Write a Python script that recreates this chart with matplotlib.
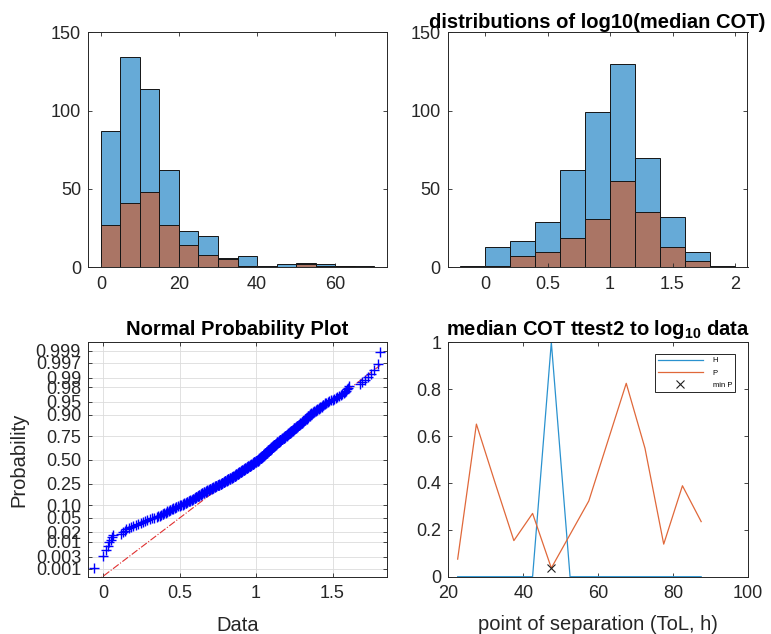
import matplotlib
matplotlib.use('Agg')
import matplotlib.pyplot as plt
import numpy as np
from statistics import NormalDist

plt.rcParams['font.family'] = ['Liberation Sans', 'DejaVu Sans']
plt.rcParams['mathtext.fontset'] = 'custom'
plt.rcParams['mathtext.rm'] = 'Liberation Sans'
plt.rcParams['mathtext.bf'] = 'Liberation Sans:bold'

# ---------------- data ----------------
# top-left: histogram of median COT (all / subset)
cot_edges = [0, 5, 10, 15, 20, 25, 30, 35, 40, 45, 50, 55, 60, 65, 70]
cot_all = [87, 134, 114, 62, 23, 20, 6, 7, 1, 2, 3, 2, 1, 1]
cot_sub = [27, 41, 48, 27, 14, 8, 5, 1, 0, 0, 2, 1, 1, 0]

# top-right: histogram of log10(median COT)
log_edges = [-0.2, 0.0, 0.2, 0.4, 0.6, 0.8, 1.0, 1.2, 1.4, 1.6, 1.8, 2.0]
log_all = [1, 13, 17, 29, 62, 99, 130, 70, 32, 10, 1]
log_sub = [0, 1, 7, 10, 19, 31, 55, 35, 13, 4, 0]

# bottom-left: normal probability plot data (value, multiplicity)
pp_vals = [-0.057, 0.002, 0.018, 0.031, 0.040, 0.052, 0.060, 0.068, 0.118, 0.128,
           0.142, 0.150, 0.172, 0.180, 0.198, 0.215, 0.232, 0.248, 0.262, 0.275,
           0.290, 0.305, 0.320, 0.335, 0.350, 0.362,
           0.37, 0.38, 0.39, 0.40, 0.41, 0.42, 0.43, 0.44, 0.45, 0.46, 0.47, 0.48, 0.49, 0.50, 0.51,
           0.52, 0.53, 0.54, 0.55, 0.56, 0.57, 0.58, 0.59,
           0.60, 0.61, 0.62, 0.63, 0.64, 0.65, 0.66, 0.67, 0.68, 0.69,
           0.70, 0.71, 0.72, 0.73, 0.74, 0.75, 0.76, 0.77,
           0.78, 0.79, 0.80, 0.81, 0.82, 0.83, 0.84, 0.85,
           0.86, 0.87, 0.88, 0.89, 0.90, 0.91, 0.92, 0.93, 0.94, 0.95, 0.96, 0.97,
           0.98, 0.99, 1.00, 1.01,
           1.02, 1.03, 1.04, 1.05, 1.06, 1.07, 1.08, 1.09, 1.10, 1.11,
           1.12, 1.13, 1.14, 1.15, 1.16, 1.17, 1.18, 1.19,
           1.20, 1.21, 1.22, 1.23, 1.24, 1.25,
           1.26, 1.27, 1.28, 1.29, 1.30, 1.31, 1.32, 1.33, 1.34, 1.35,
           1.36, 1.37, 1.38, 1.39, 1.40, 1.41, 1.42, 1.43, 1.44, 1.45,
           1.46, 1.47, 1.48,
           1.49, 1.50, 1.51, 1.52, 1.53, 1.545, 1.555, 1.565, 1.575, 1.58, 1.59, 1.595, 1.60, 1.61,
           1.68, 1.695, 1.715, 1.735, 1.75, 1.77, 1.80, 1.812]
pp_counts = [1, 1, 1, 1, 1, 1, 1, 1, 1, 1,
             1, 1, 1, 1, 1, 1, 1, 1, 1, 1,
             1, 1, 1, 1, 1, 1,
             1, 1, 2, 1, 1, 2, 1, 2, 1, 2, 1, 2, 1, 2, 1,
             2, 2, 2, 2, 2, 2, 2, 2,
             3, 3, 3, 3, 3, 3, 3, 3, 3, 3,
             3, 3, 3, 3, 3, 3, 3, 3,
             4, 4, 4, 4, 4, 4, 4, 4,
             5, 5, 5, 5, 5, 5, 5, 5, 5, 5, 5, 5,
             6, 6, 6, 6,
             7, 7, 7, 7, 7, 7, 7, 7, 7, 7,
             6, 6, 6, 6, 6, 6, 5, 5,
             5, 5, 5, 5, 5, 5,
             4, 4, 4, 4, 4, 4, 4, 4, 4, 4,
             2, 2, 2, 2, 2, 2, 2, 2, 2, 2,
             1, 1, 1,
             1, 1, 1, 1, 1, 1, 1, 1, 1, 1, 1, 1, 1, 1,
             1, 1, 1, 1, 1, 1, 1, 1]
ref_mu = 1.0       # reference line crosses p = 0.5 here
ref_sigma = 0.303  # slope of the dash-dot reference line
prob_ticks = [0.001, 0.003, 0.01, 0.02, 0.05, 0.10, 0.25, 0.50, 0.75, 0.90, 0.95, 0.98, 0.99, 0.997, 0.999]
prob_labels = ['0.001', '0.003', '0.01', '0.02', '0.05', '0.10', '0.25', '0.50', '0.75',
               '0.90', '0.95', '0.98', '0.99', '0.997', '0.999']

# bottom-right: ttest2 results vs point of separation
sep = [22.5, 27.5, 32.5, 37.5, 42.5, 47.5, 52.5, 57.5, 62.5, 67.5, 72.5, 77.5, 82.5, 87.5]
H = [0, 0, 0, 0, 0, 1, 0, 0, 0, 0, 0, 0, 0, 0]
P = [0.075, 0.651, 0.40, 0.154, 0.27, 0.037, 0.18, 0.323, 0.574, 0.825, 0.548, 0.139, 0.388, 0.235]

# ---------------- styling helpers ----------------
W, Hh = 771, 634
fig = plt.figure(figsize=(W / 100, Hh / 100), dpi=100)

def rect(l, r, t, b):
    return [l / W, 1 - b / Hh, (r - l) / W, (b - t) / Hh]

AXC = '#262626'
TFS = 13
LFS = 14.5
TTL = 14.5

def style(ax):
    for s in ax.spines.values():
        s.set_color(AXC)
        s.set_linewidth(0.7)
    ax.tick_params(direction='in', top=True, right=True, length=3, width=0.6,
                   colors=AXC, labelsize=TFS)
    ax.tick_params(axis='x', pad=6)
    ax.tick_params(axis='y', pad=5)

blue = (0.0, 0.447, 0.741)
orange = (0.85, 0.325, 0.098)

def hist(ax, edges, allc, subc):
    left = edges[:-1]
    widths = np.diff(edges)
    ax.bar(left, allc, width=widths, align='edge', color=blue + (0.6,),
           edgecolor='#151515', linewidth=0.7)
    ax.bar(left, subc, width=widths, align='edge', color=orange + (0.6,),
           edgecolor='#151515', linewidth=0.7)

# top-left
ax1 = fig.add_axes(rect(88, 387, 32.3, 267.3))
hist(ax1, cot_edges, cot_all, cot_sub)
ax1.set_xlim(-3.3, 73.3)
ax1.set_ylim(0, 150)
ax1.set_xticks([0, 20, 40, 60])
ax1.set_yticks([0, 50, 100, 150])
style(ax1)

# top-right
ax2 = fig.add_axes(rect(447.7, 747.5, 32.3, 267.3))
hist(ax2, log_edges, log_all, log_sub)
ax2.set_xlim(-0.3, 2.1)
ax2.set_ylim(0, 150)
ax2.set_xticks([0, 0.5, 1, 1.5, 2])
ax2.set_xticklabels(['0', '0.5', '1', '1.5', '2'])
ax2.set_yticks([0, 50, 100, 150])
style(ax2)
ax2.set_title('distributions of log10(median COT)', fontsize=TTL, fontweight='bold',
              color='black', pad=3)

# bottom-left: normal probability plot
ax3 = fig.add_axes(rect(88, 387, 342.3, 576.7))
nd = NormalDist()
data = np.sort(np.repeat(pp_vals, pp_counts))
n = len(data)
pz = np.array([nd.inv_cdf((i - 0.5) / n) for i in range(1, n + 1)])
xr = np.array([data.min(), data.max()])
ax3.plot(xr, (xr - ref_mu) / ref_sigma, linestyle='-.', color='#e03030', linewidth=0.8, zorder=2)
ax3.plot(data, pz, '+', color='#0000ff', markersize=7.5, markeredgewidth=1.0, zorder=3)
ax3.set_yticks([nd.inv_cdf(p) for p in prob_ticks])
ax3.set_yticklabels(prob_labels)
ax3.set_ylim(-3.31, 3.33)
ax3.set_xlim(-0.098, 1.856)
ax3.set_xticks([0, 0.5, 1, 1.5])
ax3.set_xticklabels(['0', '0.5', '1', '1.5'])
ax3.grid(True, color='#dcdcdc', linewidth=0.6)
ax3.set_axisbelow(True)
style(ax3)
ax3.tick_params(axis='y', pad=5)
ax3.set_title('Normal Probability Plot', fontsize=TTL, fontweight='bold', pad=5)
ax3.set_xlabel('Data', fontsize=LFS, color=AXC, labelpad=10)
ax3.set_ylabel('Probability', fontsize=LFS, color=AXC, labelpad=5)

# bottom-right: ttest2 results
ax4 = fig.add_axes(rect(448.3, 748, 342.3, 576.7))
ax4.plot(sep, H, color='#2a92cf', linewidth=0.9, label='H')
ax4.plot(sep, P, color='#e0683a', linewidth=0.9, label='P')
imin = int(np.argmin(P))
ax4.plot([sep[imin]], [P[imin]], 'x', color='#202020', markersize=6, markeredgewidth=0.8,
         linestyle='none', label='min P')
ax4.set_xlim(20, 100)
ax4.set_ylim(0, 1)
ax4.set_xticks([20, 40, 60, 80, 100])
ax4.set_yticks([0, 0.2, 0.4, 0.6, 0.8, 1])
ax4.set_yticklabels(['0', '0.2', '0.4', '0.6', '0.8', '1'])
style(ax4)
ax4.set_title(r'median COT ttest2 to log$_{\mathbf{10}}$ data', fontsize=TTL,
              fontweight='bold', pad=5)
ax4.set_xlabel('point of separation (ToL, h)', fontsize=LFS, color=AXC, labelpad=9)
leg = ax4.legend(loc='upper right', bbox_to_anchor=(0.957, 0.950), borderaxespad=0,
                 fontsize=5.5, handlelength=6.0, handletextpad=1.2, labelspacing=0.65,
                 borderpad=0.4, fancybox=False, framealpha=1)
leg.get_frame().set_edgecolor('#262626')
leg.get_frame().set_linewidth(0.7)

fig.savefig('out.png', dpi=100)
